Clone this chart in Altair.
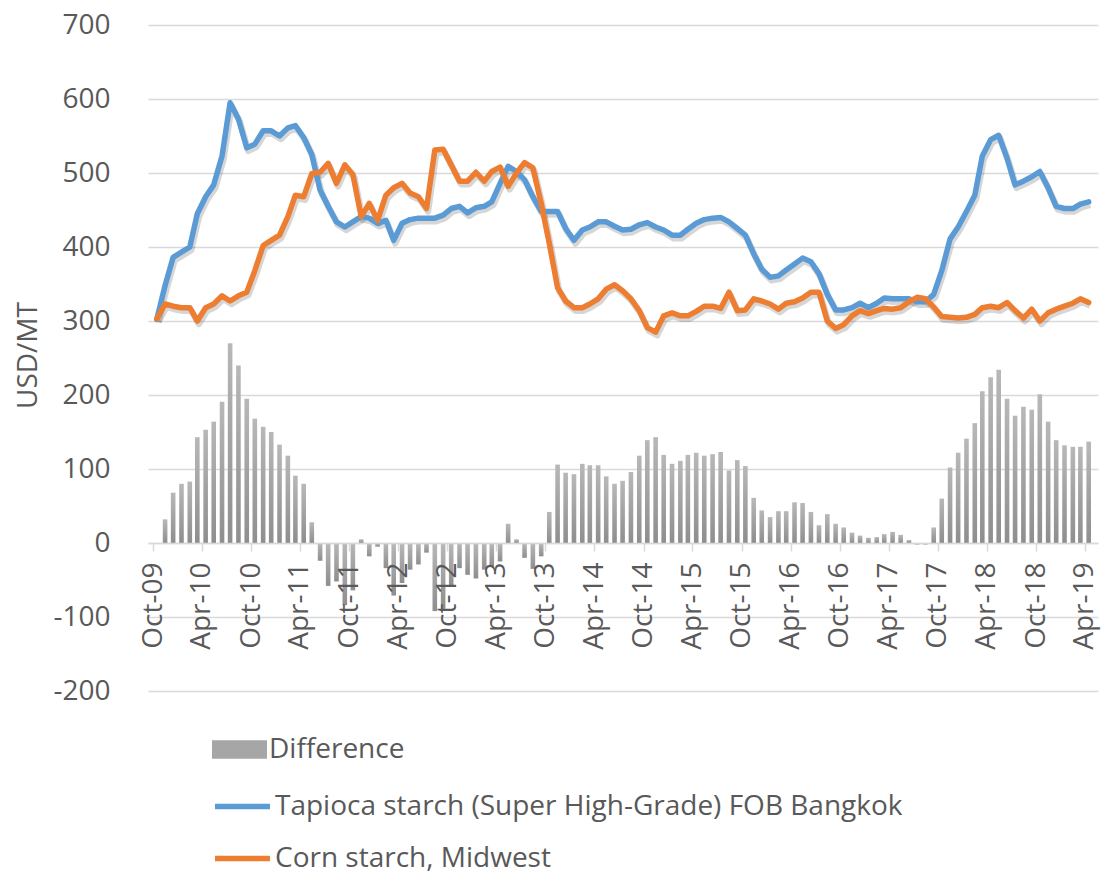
import altair as alt
import pandas as pd

N = 115
TAPIOCA = "Tapioca starch (Super High-Grade) FOB Bangkok"
CORN = "Corn starch, Midwest"
DIFF = "Difference"

tapioca = [
    302, 348, 386, 393, 400, 445, 468, 484, 523, 595,
    573, 534, 539, 557, 557, 550, 561, 564, 548, 525,
    477, 455, 434, 427, 434, 441, 439, 432, 436, 409,
    432, 437, 439, 439, 439, 443, 452, 455, 446, 453,
    455, 461, 486, 509, 502, 491, 468, 448, 448, 448,
    425, 409, 423, 427, 434, 434, 428, 423, 424, 430,
    433, 427, 423, 416, 416, 424, 432, 437, 439, 440,
    434, 425, 416, 391, 370, 359, 361, 369, 377, 385,
    380, 364, 336, 315, 315, 318, 324, 318, 324, 331,
    330, 330, 330, 326, 326, 336, 368, 411, 427, 448,
    470, 523, 545, 551, 520, 484, 489, 495, 502, 480,
    455, 452, 452, 458, 461,
]

corn = [
    303, 323, 320, 318, 318, 300, 318, 323, 334, 327,
    334, 339, 368, 402, 409, 416, 441, 470, 468, 499,
    501, 513, 486, 511, 498, 441, 459, 436, 470, 480,
    486, 473, 468, 452, 531, 532, 511, 489, 489, 501,
    489, 502, 508, 482, 500, 514, 507, 459, 405, 345,
    327, 318, 318, 323, 330, 343, 349, 341, 330, 314,
    291, 285, 307, 311, 307, 307, 313, 320, 320, 317,
    339, 314, 315, 330, 327, 323, 316, 324, 326, 331,
    339, 339, 300, 290, 295, 307, 314, 310, 314, 317,
    316, 318, 326, 332, 330, 319, 306, 305, 304, 305,
    309, 318, 320, 318, 325, 314, 304, 316, 300, 311,
    316, 320, 324, 330, 325,
]

difference = [
    0, 32, 68, 80, 83, 143, 153, 164, 191, 270,
    240, 195, 168, 157, 150, 133, 118, 91, 80, 28,
    -24, -58, -52, -84, -64, 5, -18, -5, -34, -71,
    -54, -36, -29, -13, -92, -89, -59, -34, -43, -48,
    -36, -32, -25, 26, 5, -20, -35, -18, 42, 106,
    95, 93, 107, 105, 105, 90, 80, 84, 96, 118,
    139, 143, 119, 107, 111, 119, 122, 118, 120, 123,
    98, 112, 104, 61, 44, 35, 43, 43, 55, 54,
    42, 24, 39, 26, 21, 14, 10, 7, 8, 12,
    15, 11, 4, -2, -2, 21, 60, 102, 122, 141,
    162, 205, 224, 234, 195, 172, 184, 180, 201, 164,
    139, 132, 130, 130, 137,
]

y_ticks = [-200, -100, 0, 100, 200, 300, 400, 500, 600, 700]

# monthly observations (mid-month), Oct-2009 .. Apr-2019
dates = (pd.date_range("2009-10-01", periods=N, freq="MS") + pd.Timedelta(days=14)).strftime("%Y-%m-%d").tolist()

bars_df = pd.DataFrame({"date": dates, "value": difference, "kind": [DIFF] * N})
lines_df = pd.DataFrame({
    "date": dates + dates,
    "value": tapioca + corn,
    "series": [TAPIOCA] * N + [CORN] * N,
})

tick_dates = [
    alt.DateTime(year=2009 + (9 + 6 * k) // 12, month=(9 + 6 * k) % 12 + 1, date=1, utc=True)
    for k in range(20)
]

FONT = "Open Sans"
TXT = "#595959"
GRID = "#d9d9d9"

x_enc = alt.X(
    "date:T",
    scale=alt.Scale(
        type="utc",
        domain=[alt.DateTime(year=2009, month=10, date=1, utc=True),
                alt.DateTime(year=2019, month=5, date=1, utc=True)],
    ),
    axis=alt.Axis(
        values=tick_dates,
        labelExpr="utcFormat(datum.value, '%b-%y')",
        labelAngle=270,
        labelAlign="right",
        labelBaseline="middle",
        labelPadding=11,
        labelFlush=False,
        labelOverlap=False,
        labelFont=FONT,
        labelFontSize=28,
        labelColor=TXT,
        tickSize=8,
        tickColor=GRID,
        tickWidth=1.5,
        domainColor=GRID,
        domainWidth=1.5,
        grid=False,
        offset=-148,
        title=None,
        zindex=1,
    ),
)

y_enc = alt.Y(
    "value:Q",
    scale=alt.Scale(domain=[-200, 700], nice=False, zero=False),
    axis=alt.Axis(
        values=y_ticks,
        labelExpr="'' + datum.value",
        grid=True,
        gridColor=GRID,
        gridWidth=1.5,
        domain=False,
        ticks=False,
        tickSize=0,
        labelPadding=38,
        labelFont=FONT,
        labelFontSize=28,
        labelColor=TXT,
        title="USD/MT",
        titleFont=FONT,
        titleFontSize=28,
        titleFontWeight="normal",
        titleColor=TXT,
        titleAngle=270,
        titleX=-120,
        titleY=330,
        titleAlign="center",
        titleBaseline="middle",
        zindex=0,
    ),
)

line_scale = alt.Scale(domain=[TAPIOCA, CORN], range=["#5B9BD5", "#ED7D31"])
bar_scale = alt.Scale(domain=[DIFF], range=["#a6a6a6"])

bar_legend = alt.Legend(
    orient="none",
    legendX=64,
    legendY=697,
    title=None,
    padding=0,
    labelFont=FONT,
    labelFontSize=28,
    labelColor=TXT,
    labelLimit=1000,
    labelOffset=2,
    symbolType="M-1,-0.34H1V0.34H-1Z",
    symbolSize=3025,
    symbolStrokeWidth=0,
    symbolOpacity=1,
)

line_legend = alt.Legend(
    orient="none",
    legendX=64,
    legendY=751,
    direction="vertical",
    title=None,
    padding=0,
    labelFont=FONT,
    labelFontSize=28,
    labelColor=TXT,
    labelLimit=1000,
    labelOffset=2,
    symbolType="M-1,0H1",
    symbolSize=3025,
    symbolStrokeWidth=5.5,
    symbolOpacity=1,
    rowPadding=7,
)

bar_gradient = alt.Gradient(
    gradient="linear",
    stops=[alt.GradientStop(color="#b8b8b8", offset=0), alt.GradientStop(color="#8e8e8e", offset=1)],
    x1=0, x2=0, y1=0, y2=1,
)

bars = alt.Chart(bars_df).mark_bar(size=4.6, color=bar_gradient).encode(x=x_enc, y=y_enc)

# invisible copy of the bars, only to produce the "Difference" legend entry
bars_key = alt.Chart(bars_df).mark_bar(size=4.6, opacity=0).encode(
    x=x_enc, y=y_enc, fill=alt.Fill("kind:N", scale=bar_scale, legend=bar_legend)
)

shadow = alt.Chart(lines_df).mark_line(
    strokeWidth=6.5, color="#000000", opacity=0.16, xOffset=1.5, yOffset=3, strokeJoin="round"
).encode(x=x_enc, y=y_enc, detail="series:N")

line_tap = alt.Chart(lines_df).transform_filter(alt.datum.series == TAPIOCA).mark_line(
    strokeWidth=5.5, strokeJoin="round", strokeCap="round"
).encode(x=x_enc, y=y_enc, color=alt.Color("series:N", scale=line_scale, legend=line_legend))

line_corn = alt.Chart(lines_df).transform_filter(alt.datum.series == CORN).mark_line(
    strokeWidth=5.5, strokeJoin="round", strokeCap="round"
).encode(x=x_enc, y=y_enc, color=alt.Color("series:N", scale=line_scale, legend=line_legend))

chart = alt.layer(bars, bars_key, shadow, line_tap, line_corn).properties(
    width=950,
    height=666,
    autosize=alt.AutoSizeParams(type="none"),
    padding={"left": 140, "top": 17, "right": 4, "bottom": 181},
    background="white",
).configure_view(stroke=None)

chart.save("out.html", embed_options={"renderer": "svg", "actions": False})
